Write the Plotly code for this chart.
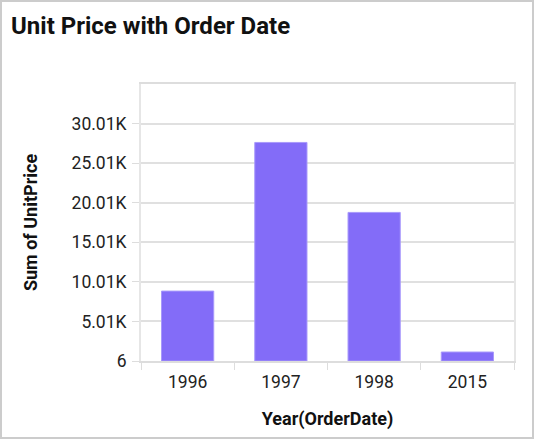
import plotly.graph_objects as go

# data
years = ["1996", "1997", "1998", "2015"]
unit_price_sum = [8840, 27620, 18780, 1140]
y_tick_values = [6, 5006, 10006, 15006, 20006, 25006, 30006]
y_tick_labels = ["6", "5.01K", "10.01K", "15.01K", "20.01K", "25.01K", "30.01K"]

W, H = 534, 439
L, R, T, B = 141, 20, 84, 78
pw, ph = W - L - R, H - T - B

fig = go.Figure()
fig.add_trace(go.Bar(
    x=years,
    y=unit_price_sum,
    width=0.56,
    marker=dict(color="#836cf8", line=dict(color="#a899fb", width=1)),
))

# outer grey frame round the whole widget
fig.add_shape(
    type="rect", xref="paper", yref="paper",
    x0=(-L + 1) / pw, x1=(W - L - 1) / pw,
    y0=(-B + 1) / ph, y1=(H - B - 1) / ph,
    line=dict(color="#cccccc", width=2), layer="below",
)

fig.update_layout(
    width=W, height=H,
    margin=dict(l=L, r=R, t=T, b=B),
    paper_bgcolor="white", plot_bgcolor="white",
    font=dict(family="Roboto", color="#222222", size=17),
    showlegend=False,
    title=dict(
        text="<b>Unit Price with Order Date</b>",
        x=11 / W, xanchor="left", y=1 - 26 / H, yanchor="middle",
        font=dict(family="Roboto", size=24, color="#111111"),
    ),
)
fig.update_xaxes(
    type="category",
    tickson="boundaries",
    ticks="outside", ticklen=7, tickcolor="#dddddd",
    showline=True, linecolor="#dddddd", linewidth=2, mirror=True,
    showgrid=False,
    ticklabelstandoff=4,
    tickfont=dict(size=17.5, color="#222222"),
    title=dict(text="<b>Year(OrderDate)</b>", standoff=21,
               font=dict(size=18, color="#111111")),
)
fig.update_yaxes(
    range=[6, 35006],
    tickvals=y_tick_values, ticktext=y_tick_labels,
    ticks="outside", ticklen=7, tickcolor="#dddddd",
    showline=True, linecolor="#e6e6e6", linewidth=2, mirror=True,
    showgrid=True, gridcolor="#e0e0e0", gridwidth=1.5,
    zeroline=False,
    ticklabelstandoff=2,
    tickfont=dict(size=17.5, color="#222222"),
    title=dict(text="<b>Sum of UnitPrice</b>", standoff=29,
               font=dict(size=18, color="#111111")),
)

# drop the browser's default 8px body margin so the figure sits at 0,0
fig.write_html("out.html", config={"displayModeBar": False},
               post_script="document.body.style.margin='0';")
